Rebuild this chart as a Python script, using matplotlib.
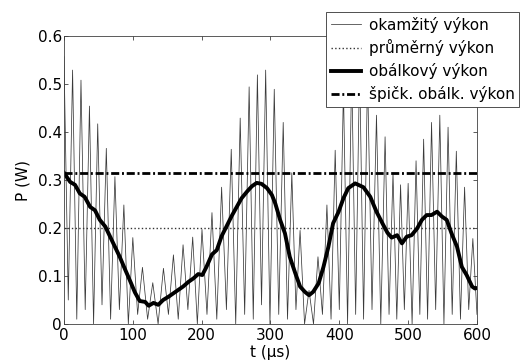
import numpy as np
import matplotlib
matplotlib.use("Agg")
import matplotlib.pyplot as plt

plt.rcParams['font.family'] = ['DejaVu Sans']
plt.rcParams['font.size'] = 11

# instantaneous power: peak of each carrier half-cycle (t in us, P in W)
peak_t = [0, 12.5, 24.7, 37, 49, 61.5, 74, 87, 100, 114, 129, 144.5, 159, 173, 187,
          200.5, 215, 229, 243, 256, 269, 281, 293, 305.5, 318.5, 331, 343, 356, 369,
          382, 394, 406, 418, 429.5, 441, 454, 466.5, 478, 489, 500, 511.5, 522.5, 534,
          546, 558, 570, 582, 594]
peak_p = [0.557, 0.529, 0.508, 0.454, 0.417, 0.366, 0.307, 0.248, 0.18, 0.118, 0.086,
          0.116, 0.144, 0.165, 0.181, 0.197, 0.232, 0.285, 0.364, 0.429, 0.494, 0.519,
          0.529, 0.489, 0.42, 0.315, 0.195, 0.07, 0.14, 0.248, 0.362, 0.49, 0.53, 0.545,
          0.52, 0.435, 0.39, 0.315, 0.29, 0.293, 0.34, 0.385, 0.42, 0.435, 0.41, 0.36,
          0.285, 0.178]
# minima between neighbouring peaks (sampled, so not always exactly zero)
trough_p = [0.05, 0.01, 0.03, 0.0, 0.04, 0.01, 0.03, 0.0, 0.02, 0.01, 0.0, 0.02, 0.01,
            0.03, 0.0, 0.02, 0.01, 0.03, 0.0, 0.02, 0.01, 0.04, 0.0, 0.02, 0.01, 0.03,
            0.0, 0.0, 0.02, 0.01, 0.03, 0.0, 0.02, 0.01, 0.03, 0.0, 0.02, 0.01, 0.03,
            0.0, 0.02, 0.01, 0.03, 0.0, 0.02, 0.01, 0.03]
end_t, end_p = 600, 0.02

# envelope power
env_t = [0, 9, 16, 23, 30, 38, 45, 52, 60, 67, 74, 81, 89, 96, 103, 110, 118, 123, 130,
         137, 144, 152, 159, 166, 173, 181, 188, 195, 201, 207, 215, 222, 229, 236, 244,
         251, 258, 266, 273, 280, 287, 295, 302, 307, 314, 321, 328, 336, 343, 350, 356,
         362, 370, 377, 384, 391, 399, 406, 413, 423, 435, 445, 454, 464, 470, 476, 484,
         491, 498, 505, 513, 520, 527, 534, 542, 549, 556, 563, 571, 578, 585, 593, 597,
         600]
env_p = [0.315, 0.296, 0.29, 0.272, 0.265, 0.244, 0.237, 0.217, 0.203, 0.182, 0.161,
         0.14, 0.113, 0.09, 0.066, 0.048, 0.046, 0.038, 0.044, 0.04, 0.05, 0.057, 0.064,
         0.071, 0.078, 0.088, 0.095, 0.104, 0.102, 0.119, 0.145, 0.154, 0.183, 0.203,
         0.226, 0.244, 0.262, 0.276, 0.287, 0.294, 0.292, 0.283, 0.269, 0.251, 0.217,
         0.189, 0.14, 0.106, 0.078, 0.067, 0.06, 0.067, 0.085, 0.119, 0.16, 0.21, 0.234,
         0.262, 0.283, 0.293, 0.285, 0.265, 0.234, 0.206, 0.19, 0.18, 0.185, 0.168,
         0.182, 0.185, 0.199, 0.217, 0.227, 0.227, 0.234, 0.224, 0.217, 0.189, 0.161,
         0.119, 0.102, 0.078, 0.074, 0.075]

mean_p = 0.2
pep = 0.315

# interleave peaks and troughs into one trace
inst_t, inst_p = [], []
for i in range(len(peak_t)):
    inst_t.append(peak_t[i])
    inst_p.append(peak_p[i])
    if i < len(trough_p):
        inst_t.append((peak_t[i] + peak_t[i + 1]) / 2)
        inst_p.append(trough_p[i])
inst_t.append(end_t)
inst_p.append(end_p)

fig = plt.figure(figsize=(5.21, 3.63), dpi=100)
ax = fig.add_axes([0.1228, 0.1074, 0.7927, 0.7934])

l1, = ax.plot(inst_t, inst_p, color='#3a3a3a', lw=0.55)
l2, = ax.plot([0, 600], [mean_p, mean_p], color='#333333', lw=1.0, ls=':')
l3, = ax.plot(env_t, env_p, color='k', lw=2.8)
l4, = ax.plot([0, 600], [pep, pep], color='k', lw=2.0, dashes=[2.9, 1.0, 0.7, 1.0])

ax.set_xlim(0, 600)
ax.set_ylim(0, 0.6)
ax.set_xticks(np.arange(0, 601, 100))
ax.set_yticks(np.arange(0, 0.61, 0.1))
ax.set_yticklabels(['0', '0.1', '0.2', '0.3', '0.4', '0.5', '0.6'])
ax.tick_params(direction='in', length=3, width=0.6, top=True, right=True,
               labelsize=11, color='#404040')
ax.tick_params(axis='y', pad=1.5)
ax.tick_params(axis='x', pad=3)
for s in ax.spines.values():
    s.set_linewidth(0.6)
    s.set_color('#404040')

ax.set_xlabel('t (\u03bcs)', labelpad=1)
ax.set_ylabel('P (W)', labelpad=5)

leg = fig.legend([l1, l2, l3, l4],
                 ['okamžitý výkon', 'průměrný výkon', 'obálkový výkon',
                  'špičk. obálk. výkon'],
                 loc='upper left', bbox_to_anchor=(326 / 521, 1 - 12 / 363),
                 fancybox=False, framealpha=1, edgecolor='#333333',
                 borderpad=0.3, labelspacing=0.45, handlelength=2.0,
                 handletextpad=0.5, borderaxespad=0, fontsize=11)
leg.get_frame().set_linewidth(0.6)

fig.savefig('out.png', dpi=100)
